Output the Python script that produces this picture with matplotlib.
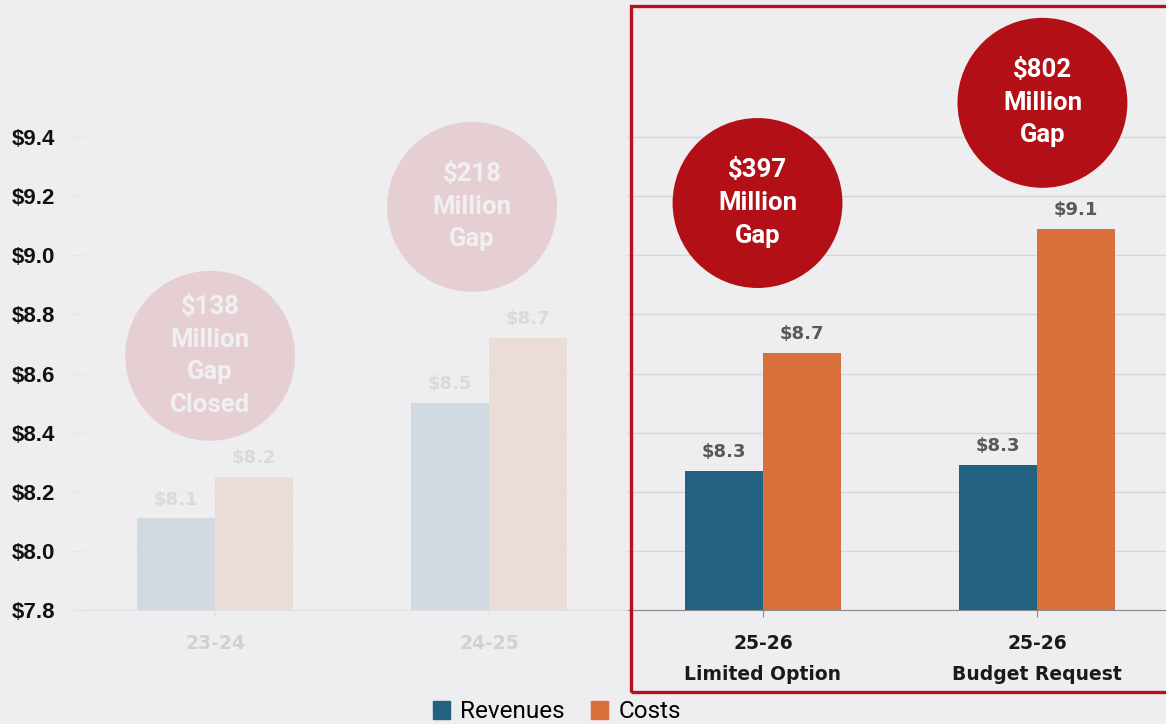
import matplotlib.pyplot as plt
from matplotlib.patches import Ellipse, Rectangle, Patch

categories = ["23-24", "24-25", "25-26\nLimited Option", "25-26\nBudget Request"]
revenues = [8.11, 8.50, 8.27, 8.29]
costs = [8.25, 8.72, 8.67, 9.09]
rev_labels = ["$8.1", "$8.5", "$8.3", "$8.3"]
cost_labels = ["$8.2", "$8.7", "$8.7", "$9.1"]
gap_labels = ["$138\nMillion\nGap\nClosed", "$218\nMillion\nGap",
              "$397\nMillion\nGap", "$802\nMillion\nGap"]
yticks = [7.8, 8.0, 8.2, 8.4, 8.6, 8.8, 9.0, 9.2, 9.4]

bg = "#eeedf0"
blue = "#22617f"
orange = "#d9703b"
red = "#b30f16"

W, H = 1166, 724
fig = plt.figure(figsize=(W / 100, H / 100), dpi=100)
fig.patch.set_facecolor(bg)
ax = fig.add_axes([80 / W, (H - 610) / H, (W - 80) / W, 532 / H])
ax.set_facecolor(bg)

x = list(range(len(categories)))
bw = 0.285
ax.bar([i - bw / 2 for i in x], revenues, width=bw, color=blue, zorder=3)
ax.bar([i + bw / 2 for i in x], costs, width=bw, color=orange, zorder=3)

for i in x:
    ax.annotate(rev_labels[i], (i - bw / 2, revenues[i]), xytext=(0, 7),
                textcoords="offset points", ha="center", va="bottom",
                fontsize=13, fontweight="bold", color="#595959", zorder=4)
    ax.annotate(cost_labels[i], (i + bw / 2, costs[i]), xytext=(0, 7),
                textcoords="offset points", ha="center", va="bottom",
                fontsize=13, fontweight="bold", color="#595959", zorder=4)

# gap bubbles
gap_pos = [(-0.018, 8.66), (0.938, 9.164), (1.98, 9.177), (3.02, 9.516)]
for (gx, gy), txt in zip(gap_pos, gap_labels):
    e = Ellipse((gx, gy), 0.62, 0.575, facecolor=red, edgecolor="none",
                zorder=5, clip_on=False)
    ax.add_patch(e)
    ax.text(gx, gy, txt, ha="center", va="center", color="white",
            fontsize=18.5, fontweight="bold", family="Roboto",
            linespacing=1.45, zorder=6)

ax.set_ylim(7.8, 9.6)
ax.set_xlim(-0.493, 3.471)
ax.set_yticks(yticks)
ax.set_yticklabels([f"${v:.1f}" for v in yticks], fontsize=16,
                   fontweight="bold", family="Liberation Sans", color="#111111")
ax.set_xticks(x)
ax.set_xticklabels(categories, fontsize=13.5, fontweight="bold",
                   color="#1a1a1a", linespacing=1.8)
ax.tick_params(axis="y", length=4, color="#bbbbbb", pad=14)
ax.tick_params(axis="x", length=5, color="#888888", pad=12)
ax.grid(axis="y", color="#d6d6d6", linewidth=1, zorder=0)
for s in ["top", "right", "left"]:
    ax.spines[s].set_visible(False)
ax.spines["bottom"].set_color("#8a8a8a")
ax.spines["bottom"].set_zorder(4)

# fade earlier years
fig.patches.append(Rectangle((75 / W, (H - 668) / H), (628 - 75) / W, 668 / H,
                             transform=fig.transFigure, facecolor=bg,
                             edgecolor="none", alpha=0.87, zorder=10))
# highlight box
fig.patches.append(Rectangle((631 / W, (H - 692) / H), (1175 - 631) / W, (692 - 6) / H,
                             transform=fig.transFigure, facecolor="none",
                             edgecolor="#b5121b", linewidth=2.4, zorder=11))

handles = [Patch(color=blue, label="Revenues"), Patch(color=orange, label="Costs")]
fig.legend(handles=handles, loc="center", bbox_to_anchor=(557 / W, 1 - 712 / H),
           ncol=2, frameon=False, handlelength=0.7,
           handleheight=0.7, handletextpad=0.4, columnspacing=1.1,
           prop={"family": "Roboto", "size": 17.5})

fig.savefig("out.png", dpi=100, facecolor=bg)
